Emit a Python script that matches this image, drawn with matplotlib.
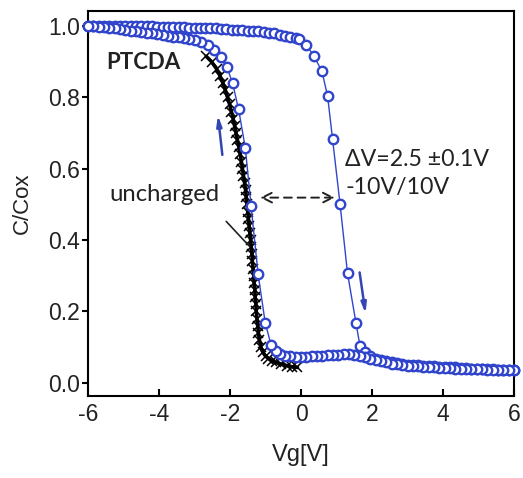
import matplotlib
matplotlib.use("Agg")
import matplotlib.pyplot as plt

# ---------------- data ----------------
# forward sweep (-6 V -> +6 V), blue circles
fwd_x = [-6.0, -5.85, -5.7, -5.55, -5.4, -5.25, -5.1, -4.95, -4.8, -4.65,
         -4.5, -4.35, -4.2, -4.05, -3.9, -3.75, -3.6, -3.45, -3.3, -3.15,
         -3.0, -2.85, -2.7, -2.55, -2.4, -2.25, -2.1, -1.95, -1.8, -1.65,
         -1.5, -1.35, -1.2, -1.05, -0.9, -0.75, -0.6, -0.45, -0.3, -0.15,
         -0.05, 0.14, 0.37, 0.59, 0.75, 0.89, 1.10, 1.31, 1.55, 1.66,
         1.80, 1.95, 2.1, 2.25, 2.4, 2.55, 2.7, 2.85, 3.0, 3.15,
         3.3, 3.45, 3.6, 3.75, 3.9, 4.05, 4.2, 4.35, 4.5, 4.65,
         4.8, 4.95, 5.1, 5.25, 5.4, 5.55, 5.7, 5.85, 6.0]
fwd_y = [1.000, 1.000, 1.000, 1.000, 1.000, 1.000, 1.000, 1.000, 1.000, 1.000,
         1.000, 0.999, 0.999, 0.998, 0.998, 0.997, 0.997, 0.996, 0.996, 0.995,
         0.995, 0.994, 0.994, 0.993, 0.993, 0.992, 0.991, 0.990, 0.989, 0.988,
         0.987, 0.986, 0.985, 0.983, 0.981, 0.979, 0.976, 0.973, 0.970, 0.967,
         0.963, 0.948, 0.915, 0.873, 0.803, 0.682, 0.501, 0.307, 0.167, 0.104,
         0.086, 0.075, 0.068, 0.063, 0.060, 0.057, 0.055, 0.053, 0.051, 0.050,
         0.049, 0.048, 0.047, 0.046, 0.045, 0.044, 0.043, 0.043, 0.042, 0.041,
         0.040, 0.040, 0.039, 0.038, 0.038, 0.037, 0.036, 0.036, 0.035]

# reverse sweep (+6 V -> -6 V), blue circles
rev_x = [6.0, 5.85, 5.7, 5.55, 5.4, 5.25, 5.1, 4.95, 4.8, 4.65,
         4.5, 4.35, 4.2, 4.05, 3.9, 3.75, 3.6, 3.45, 3.3, 3.15,
         3.0, 2.85, 2.7, 2.55, 2.4, 2.25, 2.1, 1.95, 1.8, 1.65,
         1.5, 1.35, 1.2, 1.05, 0.9, 0.75, 0.6, 0.45, 0.3, 0.15,
         0.0, -0.15, -0.3, -0.45, -0.58, -0.70, -0.845, -1.006, -1.208, -1.408,
         -1.568, -1.757, -1.926, -2.083, -2.252, -2.44, -2.63, -2.81, -3.0, -3.15,
         -3.3, -3.45, -3.6, -3.75, -3.9, -4.05, -4.2, -4.35, -4.5, -4.65,
         -4.8, -4.95, -5.1, -5.25, -5.4, -5.55, -5.7, -5.85, -6.0]
rev_y = [0.035, 0.035, 0.036, 0.036, 0.037, 0.037, 0.038, 0.038, 0.039, 0.039,
         0.040, 0.040, 0.041, 0.042, 0.042, 0.043, 0.044, 0.045, 0.046, 0.047,
         0.048, 0.050, 0.052, 0.054, 0.057, 0.060, 0.063, 0.067, 0.071, 0.075,
         0.078, 0.080, 0.080, 0.079, 0.078, 0.077, 0.076, 0.075, 0.074, 0.073,
         0.073, 0.073, 0.074, 0.076, 0.080, 0.090, 0.107, 0.167, 0.304, 0.496,
         0.658, 0.766, 0.839, 0.884, 0.912, 0.933, 0.946, 0.954, 0.960, 0.963,
         0.966, 0.968, 0.970, 0.973, 0.975, 0.977, 0.979, 0.981, 0.983, 0.985,
         0.987, 0.989, 0.991, 0.993, 0.995, 0.996, 0.998, 0.999, 1.000]

# uncharged device, black crosses + line
unc_x = [-2.67, -2.52, -2.38, -2.28, -2.20, -2.13, -2.07, -2.01, -1.96, -1.91,
         -1.87, -1.83, -1.79, -1.75, -1.71, -1.68, -1.65, -1.62, -1.59, -1.56,
         -1.54, -1.52, -1.50, -1.48, -1.46, -1.44, -1.42, -1.40, -1.38, -1.37,
         -1.35, -1.33, -1.32, -1.30, -1.29, -1.27, -1.26, -1.24, -1.22, -1.20,
         -1.17, -1.13, -1.07, -1.00, -0.92, -0.82, -0.70, -0.55, -0.40, -0.25,
         -0.10]
unc_y = [0.915, 0.900, 0.880, 0.860, 0.840, 0.820, 0.800, 0.780, 0.760, 0.740,
         0.720, 0.700, 0.680, 0.660, 0.640, 0.620, 0.600, 0.580, 0.560, 0.540,
         0.520, 0.500, 0.480, 0.460, 0.440, 0.420, 0.400, 0.380, 0.360, 0.340,
         0.320, 0.300, 0.280, 0.260, 0.240, 0.220, 0.200, 0.180, 0.160, 0.140,
         0.120, 0.100, 0.085, 0.075, 0.068, 0.062, 0.057, 0.052, 0.048, 0.045,
         0.043]

x_ticks = [-6, -4, -2, 0, 2, 4, 6]
y_ticks = [0.0, 0.2, 0.4, 0.6, 0.8, 1.0]
y_tick_labels = ["0.0", "0.2", "0.4", "0.6", "0.8", "1.0"]

# ---------------- plot ----------------
BLUE = "#3045cc"
ARROW_BLUE = "#3346b4"
TICK_FONT = "Liberation Sans"
ANN_FONT = ["Lato", "DejaVu Sans"]
plt.rcParams["font.family"] = [TICK_FONT, "DejaVu Sans"]

fig = plt.figure(figsize=(5.23, 4.78), dpi=100)
ax = fig.add_axes([88 / 523, 1 - 396 / 478, 426 / 523, 385 / 478])

ax.plot(unc_x, unc_y, color="black", lw=2.6, zorder=2, solid_capstyle="round")
ax.plot(unc_x, unc_y, ls="none", marker="x", ms=6.5, mew=1.1, color="black", zorder=2)

for xs, ys in ((fwd_x, fwd_y), (rev_x, rev_y)):
    ax.plot(xs, ys, color=BLUE, lw=1.0, marker="o", ms=6.8, mfc="white",
            mec=BLUE, mew=1.7, zorder=3, clip_on=False)

ax.set_xlim(-6, 6)
ax.set_ylim(-0.037, 1.042)
ax.set_xticks(x_ticks)
ax.set_xticklabels([str(t) for t in x_ticks])
ax.set_yticks(y_ticks)
ax.set_yticklabels(y_tick_labels)

for sp in ax.spines.values():
    sp.set_linewidth(1.5)
ax.tick_params(axis="x", direction="in", length=5, width=1.5, pad=5,
               labelsize=16.5, labelcolor="#222222")
ax.tick_params(axis="y", direction="out", length=4, width=1.5, pad=2,
               labelsize=16.5, labelcolor="#222222")

ax.text(-0.155, 0.5, "C/Cox", transform=ax.transAxes, rotation=90,
        ha="center", va="center", fontsize=16, color="#222222")
ax.text(0.5, -0.153, "Vg[V]", transform=ax.transAxes,
        ha="center", va="center", fontsize=17, color="#222222")

ax.text(-5.49, 0.879, "PTCDA", fontsize=16, fontweight="bold", family=ANN_FONT,
        color="#222222", va="baseline", ha="left")
ax.text(-5.40, 0.509, "uncharged", fontsize=17.2, family=ANN_FONT,
        color="#222222", va="baseline", ha="left")
ax.text(1.25, 0.607, "ΔV=2.5 ±0.1V", fontsize=16.7, family=ANN_FONT,
        color="#222222", va="baseline", ha="left")
ax.text(1.25, 0.528, "-10V/10V", fontsize=16.7, family=ANN_FONT,
        color="#222222", va="baseline", ha="left")

# dashed double arrow
ax.annotate("", xy=(-1.23, 0.519), xytext=(1.03, 0.519),
            arrowprops=dict(arrowstyle="<->,head_length=0.7,head_width=0.35",
                            ls=(0, (4, 3)), lw=1.4, color="#222222"), zorder=4)
# pointer line from label to curve
ax.annotate("", xy=(-1.41, 0.378), xytext=(-2.16, 0.458),
            arrowprops=dict(arrowstyle="-", lw=1.2, color="#222222"))
# blue sweep-direction arrows
ax.annotate("", xy=(-2.35, 0.758), xytext=(-2.207, 0.631),
            arrowprops=dict(arrowstyle="-|>,head_length=0.6,head_width=0.15",
                            lw=1.8, color=ARROW_BLUE))
ax.annotate("", xy=(1.83, 0.186), xytext=(1.64, 0.317),
            arrowprops=dict(arrowstyle="-|>,head_length=0.6,head_width=0.15",
                            lw=1.8, color=ARROW_BLUE))

fig.savefig("out.png", dpi=100)
